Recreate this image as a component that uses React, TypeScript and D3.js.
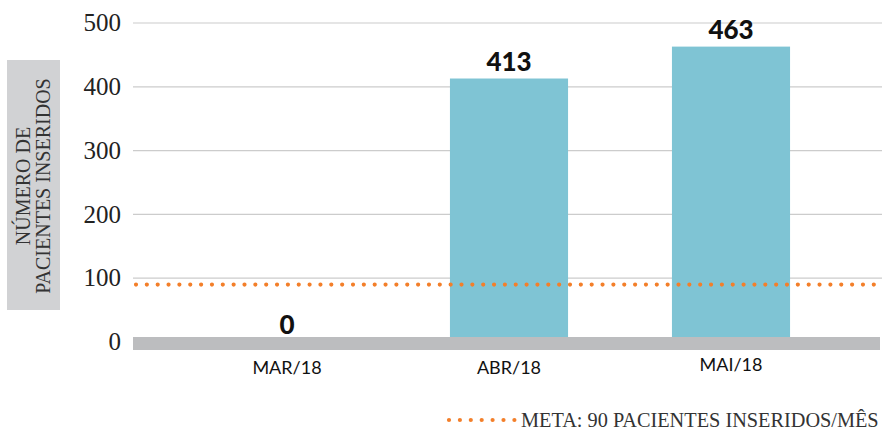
import React from "react";
import * as d3 from "d3";

const categories = ["MAR/18", "ABR/18", "MAI/18"];
const values = [0, 413, 463];
const yTicks = [0, 100, 200, 300, 400, 500];
const meta = 90;
const yTitle = ["NÚMERO DE", "PACIENTES INSERIDOS"];
const legendLabel = "META: 90 PACIENTES INSERIDOS/MÊS";

export default function App() {
  const W = 882, H = 431;
  const y = d3.scaleLinear().domain([0, 500]).range([342, 23]);
  const x = d3.scaleBand<string>().domain(categories).range([176, 842]).paddingInner(0.468).paddingOuter(0.234);
  const serif = "'Liberation Serif', 'DejaVu Serif', serif";
  const sans = "Lato, 'Open Sans', sans-serif";
  return (
    <svg width={W} height={H} style={{ position: "absolute", left: 0, top: 0 }}>
      <rect x={0} y={0} width={W} height={H} fill="#fff" />
      {yTicks.filter(t => t > 0).map(t => (
        <line key={t} x1={133} x2={882} y1={y(t)} y2={y(t)} stroke="#cccccc" strokeWidth={1.2} />
      ))}
      {yTicks.map(t => (
        <text key={t} x={121} y={y(t)} dy="0.33em" textAnchor="end" fontFamily={serif} fontSize={25} fill="#222">{t}</text>
      ))}
      <rect x={7} y={60} width={53} height={250} fill="#d1d2d4" />
      <g transform="translate(34,186) rotate(-90)">
        <text textAnchor="middle" fontFamily={serif} fontSize={20} fill="#333">
          <tspan x={0} y={-4}>{yTitle[0]}</tspan>
          <tspan x={0} y={16}>{yTitle[1]}</tspan>
        </text>
      </g>
      {categories.map((c, i) => (
        <rect key={c} x={x(c)!} width={x.bandwidth()} y={y(values[i])} height={y(0) - y(values[i])} fill="#7fc4d4" />
      ))}
      <rect x={133} y={337} width={747} height={13} fill="#bcbdbf" />
      <line x1={136} x2={882} y1={y(meta)} y2={y(meta)} stroke="#f37f2a" strokeWidth={4.2} strokeLinecap="round" strokeDasharray="0 10.85" />
      {categories.map((c, i) => (
        <text key={c} x={x(c)! + x.bandwidth() / 2} y={y(values[i]) - 8} textAnchor="middle" fontFamily={sans} fontWeight={900} fontSize={26} fill="#111">{values[i]}</text>
      ))}
      {categories.map((c, i) => (
        <text key={c} x={x(c)! + x.bandwidth() / 2} y={i === 2 ? 371 : 374} textAnchor="middle" fontFamily={sans} fontSize={18} fill="#111">{c}</text>
      ))}
      <line x1={449} x2={515} y1={420} y2={420} stroke="#f37f2a" strokeWidth={4.2} strokeLinecap="round" strokeDasharray="0 10.9" />
      <text x={521} y={427} fontFamily={serif} fontSize={20.3} fill="#333">{legendLabel}</text>
    </svg>
  );
}
